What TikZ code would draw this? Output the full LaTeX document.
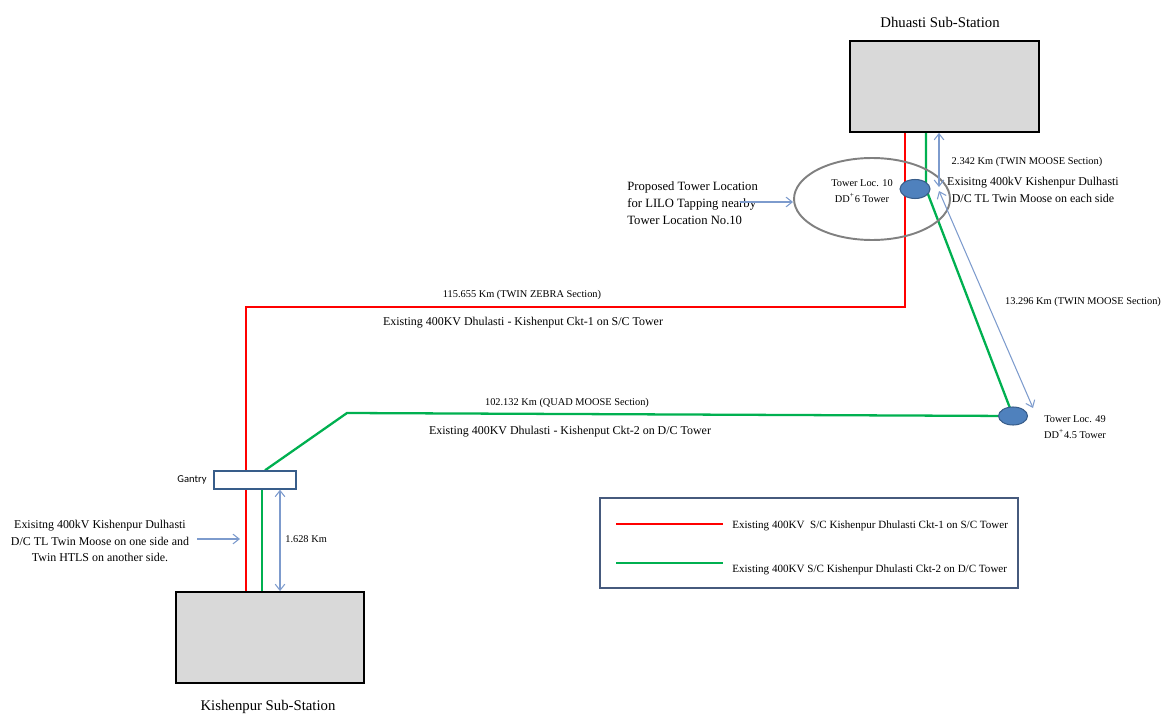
\documentclass[tikz,border=0pt]{standalone}
\usepackage{fontspec}
\setmainfont{Liberation Serif}
\newfontfamily\gantryfont{Carlito}
\usepackage{xcolor}
\usepackage{tikz}
\usetikzlibrary{calc, shapes.geometric, positioning, backgrounds, arrows.meta}

\definecolor{ckared}{RGB}{255,0,0}
\definecolor{ckbgreen}{RGB}{0,176,80}
\definecolor{dimblue}{RGB}{125,155,205}
\definecolor{towerfill}{RGB}{79,129,189}
\definecolor{towerline}{RGB}{56,93,138}
\definecolor{ssgray}{RGB}{217,217,217}
\definecolor{ringgray}{RGB}{128,128,128}
\definecolor{framegray}{RGB}{70,90,125}

\tikzset{
    ssbox/.style={draw=black, fill=ssgray, line width=1pt, minimum width=3.78cm, minimum height=1.82cm},
    towerdot/.style={ellipse, draw=towerline, fill=towerfill, line width=0.6pt, minimum width=0.6cm, minimum height=0.38cm, inner sep=0pt},
    ckaline/.style={ckared, line width=1.3pt},
    ckbline/.style={ckbgreen, line width=1.3pt},
    dimline/.style={dimblue, line width=0.6pt},
    bigtxt/.style={inner sep=0pt, font=\fontsize{8.4}{10}\selectfont},
    midtxt/.style={inner sep=0pt, align=center, font=\fontsize{6.8}{9.3}\selectfont},
    smalltxt/.style={inner sep=0pt, align=center, font=\fontsize{5.9}{9}\selectfont}
}

\begin{document}
\begin{tikzpicture}[x=0.02cm, y=-0.02cm, >={Straight Barb[length=3.5pt, width=5.5pt]}]

    \useasboundingbox (0,0) rectangle (1168,716);

    % =================================================================
    % 1. TRẠM BIẾN ÁP, GANTRY VÀ CỘT
    % =================================================================
    \node[ssbox] (dhu) at (944.5,86.5) {};
    \node[bigtxt] (dhutxt) at (940,22) {Dhuasti Sub-Station};

    \node[ssbox, minimum width=3.76cm] (kis) at (270,637.5) {};
    \node[bigtxt] (kistxt) at (268,707) {Kishenpur Sub-Station};

    \node[draw=towerline, fill=white, line width=0.8pt, minimum width=1.64cm, minimum height=0.36cm, inner sep=0pt] (gan) at (255,480) {};
    \node[inner sep=0pt, font=\gantryfont\fontsize{6}{7}\selectfont] (gantxt) at (192,480) {Gantry};

    % vòng elip quanh cột số 10
    \node[ellipse, draw=ringgray, line width=1.1pt, minimum width=3.12cm, minimum height=1.64cm] (ring) at (872,199) {};
    \node[smalltxt] (t10txt) at (862,191) {Tower Loc. 10\\DD\textsuperscript{+}6 Tower};

    \node[towerdot] (t10) at (915,189) {};
    \node[towerdot, minimum width=0.58cm, minimum height=0.36cm] (t49) at (1013,416) {};
    \node[smalltxt] (t49txt) at (1075,427) {Tower Loc. 49\\DD\textsuperscript{+}4.5 Tower};

    % =================================================================
    % 2. CÁC ĐƯỜNG DÂY (nằm dưới các nút)
    % =================================================================
    \begin{pgfonlayer}{background}
        % mạch 1 - màu đỏ
        \draw[ckaline] (dhu.south -| 905,0) -- (905,307) -- (246,307) -- (gan.north -| 246,0);
        \draw[ckaline] (gan.south -| 246,0) -- (kis.north -| 246,0);

        % mạch 2 - màu xanh
        \draw[ckbline] (dhu.south -| 926,0) -- (926,189) -- (t49.center);
        \draw[ckbline] (t49.center) -- (347,413) -- (gan.north -| 265,0);
        \draw[ckbline] (gan.south -| 262,0) -- (kis.north -| 262,0);
    \end{pgfonlayer}

    % =================================================================
    % 3. KHOẢNG CÁCH VÀ GHI CHÚ
    % =================================================================
    \coordinate (d1) at (939,187);
    \coordinate (d2) at (939,191);
    \coordinate (d3) at (1033,408);
    \draw[dimline, <->] (dhu.south -| 939,0) -- (d1);
    \draw[dimline, <->] (d2) -- (d3);
    \draw[dimline, <->] (gan.south -| 280,0) -- (kis.north -| 280,0);

    \node[smalltxt] (len1) at (1027,162) {2.342 Km (TWIN MOOSE Section)};
    \node[midtxt] (exis1) at (1033,190) {Exisitng 400kV Kishenpur Dulhasti\\D/C TL Twin Moose on each side};
    \node[smalltxt] (len2) at (1083,302) {13.296 Km (TWIN MOOSE Section)};
    \node[smalltxt] (len3) at (522,295) {115.655 Km (TWIN ZEBRA Section)};
    \node[midtxt] (cka) at (523,323) {Existing 400KV Dhulasti - Kishenput Ckt-1 on S/C Tower};
    \node[smalltxt] (len4) at (567,403) {102.132 Km (QUAD MOOSE Section)};
    \node[midtxt] (ckb) at (570,432) {Existing 400KV Dhulasti - Kishenput Ckt-2 on D/C Tower};
    \node[smalltxt, anchor=west] (len5) at (285,539) {1.628 Km};

    \node[inner sep=0pt, align=left, anchor=west, font=\fontsize{7.2}{9.6}\selectfont] (prop) at (627,203)
        {Proposed Tower Location\\for LILO Tapping nearby\\Tower Location No.10};
    \coordinate (pstart) at (740,202);
    \draw[dimline, ->] (pstart) -- (pstart -| ring.west);

    \node[midtxt, font=\fontsize{6.8}{9.6}\selectfont] (exis2) at (100,541)
        {Exisitng 400kV Kishenpur Dulhasti\\D/C TL Twin Moose on one side and\\Twin HTLS on another side.};
    \coordinate (lstart) at (197,539);
    \coordinate (lend) at (240,539);
    \draw[dimline, ->] (lstart) -- (lend);

    % =================================================================
    % 4. CHÚ THÍCH
    % =================================================================
    \node[draw=framegray, line width=0.8pt, minimum width=8.36cm, minimum height=1.8cm] (legend) at (809,543) {};
    \foreach \c/\y in {ckaline/524, ckbline/563} {
        \coordinate (la\y) at (616,\y);
        \coordinate (lb\y) at (723,\y);
        \draw[\c] (la\y) -- (lb\y);
    }
    \node[inner sep=0pt, anchor=west, font=\fontsize{6.3}{8}\selectfont] (leg1) at (732,526) {Existing 400KV\ \ S/C Kishenpur Dhulasti Ckt-1 on S/C Tower};
    \node[inner sep=0pt, anchor=west, font=\fontsize{6.3}{8}\selectfont] (leg2) at (732,570) {Existing 400KV S/C Kishenpur Dhulasti Ckt-2 on D/C Tower};

\end{tikzpicture}
\end{document}
